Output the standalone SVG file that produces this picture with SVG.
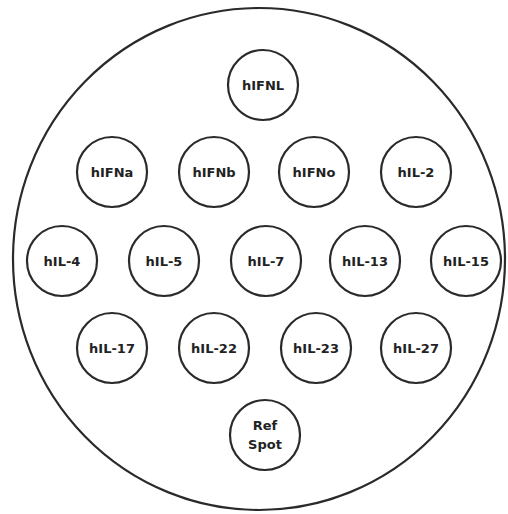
<svg xmlns="http://www.w3.org/2000/svg" width="508" height="514" viewBox="0 0 508 514">
<style>
.s{fill:#fff;stroke:#2a2a2a;stroke-width:2.2}
.t{font-family:"DejaVu Sans",Verdana,sans-serif;font-weight:bold;font-size:13px;fill:#222;text-anchor:middle;dominant-baseline:central}
</style>
<rect width="508" height="514" fill="#fff"/>
<g id="plate"><ellipse class="s" cx="259" cy="259" rx="246" ry="251"/></g>
<g id="connectors"/>
<g id="hIFNL"><circle class="s" cx="263" cy="85" r="35"/><text class="t" x="263" y="85">hIFNL</text></g>
<g id="hIFNa"><circle class="s" cx="112" cy="172" r="35"/><text class="t" x="112" y="172">hIFNa</text></g>
<g id="hIFNb"><circle class="s" cx="214" cy="172" r="35"/><text class="t" x="214" y="172">hIFNb</text></g>
<g id="hIFNo"><circle class="s" cx="314" cy="172" r="35"/><text class="t" x="314" y="172">hIFNo</text></g>
<g id="hIL-2"><circle class="s" cx="416" cy="172" r="35"/><text class="t" x="416" y="172">hIL-2</text></g>
<g id="hIL-4"><circle class="s" cx="62" cy="261" r="35"/><text class="t" x="62" y="261">hIL-4</text></g>
<g id="hIL-5"><circle class="s" cx="164" cy="261" r="35"/><text class="t" x="164" y="261">hIL-5</text></g>
<g id="hIL-7"><circle class="s" cx="266" cy="261" r="35"/><text class="t" x="266" y="261">hIL-7</text></g>
<g id="hIL-13"><circle class="s" cx="365" cy="261" r="35"/><text class="t" x="365" y="261">hIL-13</text></g>
<g id="hIL-15"><circle class="s" cx="466" cy="261" r="35"/><text class="t" x="466" y="261">hIL-15</text></g>
<g id="hIL-17"><circle class="s" cx="112" cy="348" r="35"/><text class="t" x="112" y="348">hIL-17</text></g>
<g id="hIL-22"><circle class="s" cx="214" cy="348" r="35"/><text class="t" x="214" y="348">hIL-22</text></g>
<g id="hIL-23"><circle class="s" cx="316" cy="348" r="35"/><text class="t" x="316" y="348">hIL-23</text></g>
<g id="hIL-27"><circle class="s" cx="416" cy="348" r="35"/><text class="t" x="416" y="348">hIL-27</text></g>
<g id="RefSpot"><circle class="s" cx="265" cy="435" r="35"/><text class="t" x="265" y="425">Ref</text><text class="t" x="265" y="444">Spot</text></g>
</svg>
